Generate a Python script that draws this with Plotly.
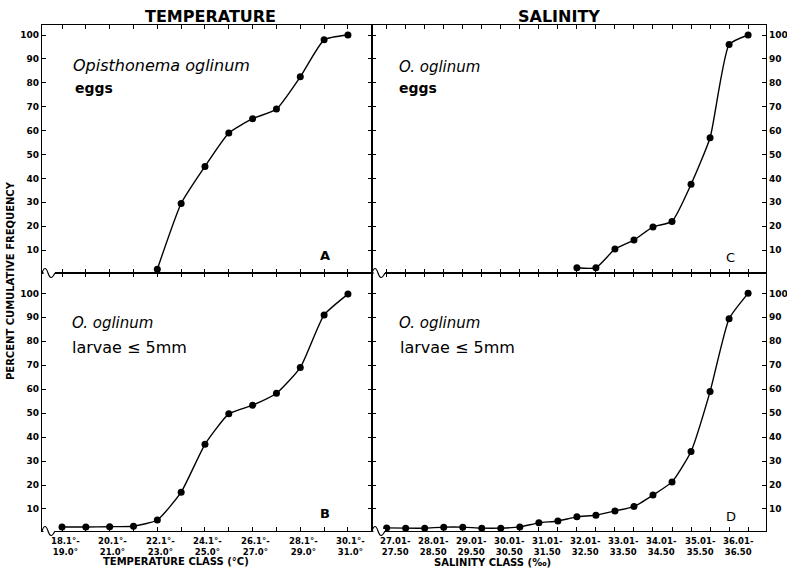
import plotly.graph_objects as go
from plotly.subplots import make_subplots

# ---------------- data ----------------
temp_classes = ["18.1°-19.0°", "19.1°-20.0°", "20.1°-21.0°", "21.1°-22.0°", "22.1°-23.0°",
                "23.1°-24.0°", "24.1°-25.0°", "25.1°-26.0°", "26.1°-27.0°", "27.1°-28.0°",
                "28.1°-29.0°", "29.1°-30.0°", "30.1°-31.0°"]
temp_ticktext = ["18.1°-<br>19.0°", "", "20.1°-<br>21.0°", "", "22.1°-<br>23.0°", "",
                 "24.1°-<br>25.0°", "", "26.1°-<br>27.0°", "", "28.1°-<br>29.0°", "",
                 "30.1°-<br>31.0°"]

sal_classes = ["27.01-27.50", "27.51-28.00", "28.01-28.50", "28.51-29.00", "29.01-29.50",
               "29.51-30.00", "30.01-30.50", "30.51-31.00", "31.01-31.50", "31.51-32.00",
               "32.01-32.50", "32.51-33.00", "33.01-33.50", "33.51-34.00", "34.01-34.50",
               "34.51-35.00", "35.01-35.50", "35.51-36.00", "36.01-36.50", "36.51-37.00"]
sal_ticktext = ["27.01-<br>27.50", "", "28.01-<br>28.50", "", "29.01-<br>29.50", "",
                "30.01-<br>30.50", "", "31.01-<br>31.50", "", "32.01-<br>32.50", "",
                "33.01-<br>33.50", "", "34.01-<br>34.50", "", "35.01-<br>35.50", "",
                "36.01-<br>36.50", ""]

# A: temperature, eggs (starts at 22.1-23.0)
temp_eggs_x = temp_classes[4:]
temp_eggs = [2, 29.5, 45, 59, 65, 69, 82.5, 98, 100]
# B: temperature, larvae <= 5 mm
temp_larvae = [2.5, 2.5, 2.6, 2.8, 5.4, 17, 37, 49.7, 53.3, 58.3, 69, 91, 99.7]
# C: salinity, eggs (starts at 32.01-32.50)
sal_eggs_x = sal_classes[10:]
sal_eggs = [2.6, 2.6, 10.4, 14.2, 19.7, 22, 37.5, 57, 96, 100]
# D: salinity, larvae <= 5 mm
sal_larvae = [2.1, 2, 2, 2.4, 2.4, 2, 2, 2.5, 4.2, 5, 6.7, 7.4, 9.2, 11, 15.8, 21.3,
              34, 59, 89.4, 100]

y_ticks = [10, 20, 30, 40, 50, 60, 70, 80, 90, 100]

# ---------------- layout geometry ----------------
W, H = 787, 572
ML, MR, MT, MB = 42, 21, 25, 41
PW, PH = W - ML - MR, H - MT - MB
split_x = (372 - ML) / PW
split_y = (H - MB - 273) / PH

FONT = "DejaVu Sans"

fig = make_subplots(rows=2, cols=2, horizontal_spacing=0, vertical_spacing=0,
                    column_widths=[split_x, 1 - split_x],
                    row_heights=[1 - split_y, split_y])

line_style = dict(color="black", width=1.4, shape="spline", smoothing=0.5)
marker_style = dict(color="black", size=7)

fig.add_trace(go.Scatter(x=temp_eggs_x, y=temp_eggs, mode="lines+markers",
                         line=line_style, marker=marker_style), row=1, col=1)
fig.add_trace(go.Scatter(x=sal_eggs_x, y=sal_eggs, mode="lines+markers",
                         line=line_style, marker=marker_style), row=1, col=2)
fig.add_trace(go.Scatter(x=temp_classes, y=temp_larvae, mode="lines+markers",
                         line=line_style, marker=marker_style), row=2, col=1)
fig.add_trace(go.Scatter(x=sal_classes, y=sal_larvae, mode="lines+markers",
                         line=line_style, marker=marker_style), row=2, col=2)

tickfont = dict(family=FONT, size=8, color="black", weight="bold")
common_axis = dict(showline=True, linecolor="black", linewidth=1.2, mirror="ticks",
                   ticks="inside", ticklen=4, tickwidth=1, tickcolor="black",
                   showgrid=False, zeroline=False, tickfont=tickfont, fixedrange=True,
                   automargin=False)

for r in (1, 2):
    fig.update_xaxes(row=r, col=1, type="category", categoryorder="array",
                     categoryarray=temp_classes, range=[-0.84, 13.01],
                     tickmode="array", tickvals=temp_classes,
                     showticklabels=False, **common_axis)
    fig.update_xaxes(row=r, col=2, type="category", categoryorder="array",
                     categoryarray=sal_classes, range=[-0.77, 19.94],
                     tickmode="array", tickvals=sal_classes,
                     showticklabels=False, **common_axis)

ytickfont = dict(family=FONT, size=9, color="black", weight="bold")
yax = dict(common_axis)
yax["tickfont"] = ytickfont
fig.update_yaxes(row=1, col=1, range=[0.4, 104.2], tickvals=y_ticks, side="left", **yax)
fig.update_yaxes(row=2, col=1, range=[0.8, 108.5], tickvals=y_ticks, side="left", **yax)
fig.update_yaxes(row=1, col=2, range=[0.4, 104.2], tickvals=y_ticks, side="right", **yax)
fig.update_yaxes(row=2, col=2, range=[0.8, 108.5], tickvals=y_ticks, side="right", **yax)


def px(x):
    return (x - ML) / PW


def py(y):
    return (H - MB - y) / PH


annotations = []


def note(text, x, y, size, weight="normal", style="normal", xanchor="left", textangle=0):
    annotations.append(dict(text=text, x=px(x), y=py(y), xref="paper", yref="paper",
                            xanchor=xanchor, yanchor="middle", showarrow=False,
                            textangle=textangle,
                            font=dict(family=FONT, size=size, color="black",
                                      weight=weight, style=style)))


# category tick labels of the bottom axes, placed through the category axes
for cats, texts, xref, shift in [(temp_classes, temp_ticktext, "x3", 3),
                                 (sal_classes, sal_ticktext, "x4", 9)]:
    for c, t in zip(cats, texts):
        if t:
            annotations.append(dict(text=t, x=c, xref=xref, y=py(546), yref="paper",
                                    xanchor="center", yanchor="middle", xshift=shift,
                                    showarrow=False,
                                    font=dict(family=FONT, size=8.5, color="black",
                                              weight="bold")))

# headings
note("TEMPERATURE", 210, 16, 16, weight="bold", xanchor="center")
note("SALINITY", 559, 16, 16, weight="bold", xanchor="center")
# axis titles
note("TEMPERATURE CLASS (°C)", 176, 561, 10, weight="bold", xanchor="center")
note("SALINITY CLASS (‰)", 492, 562, 10, weight="bold", xanchor="center")
note("PERCENT CUMULATIVE FREQUENCY", 10, 281, 10, weight="bold", xanchor="center",
     textangle=-90)
# panel A
note("Opisthonema oglinum", 71, 66, 16, style="italic")
note("eggs", 73, 88, 14, weight="bold")
note("A", 325, 255, 13, weight="bold", xanchor="center")
# panel B
note("O. oglinum", 70, 323, 15, style="italic")
note("larvae ≤ 5mm", 70, 347, 16)
note("B", 325, 513, 13, weight="bold", xanchor="center")
# panel C
note("O. oglinum", 397, 67, 15, style="italic")
note("eggs", 397, 88, 14, weight="bold")
note("C", 730, 257, 13, xanchor="center")
# panel D
note("O. oglinum", 397, 323, 15, style="italic")
note("larvae ≤ 5mm", 398, 347, 16)
note("D", 731, 516, 13, xanchor="center")

# axis-break marks on the baselines
shapes = []
for bx, by in [(42, 273), (372, 273), (42, 531), (372, 531)]:
    shapes.append(dict(type="line", xref="paper", yref="paper",
                       x0=px(bx + 1.5), x1=px(bx + 13), y0=py(by), y1=py(by),
                       line=dict(color="white", width=4)))
    path = (f"M {px(bx)},{py(by)} "
            f"C {px(bx + 2)},{py(by - 6)} {px(bx + 4)},{py(by - 6)} {px(bx + 6)},{py(by)} "
            f"C {px(bx + 8)},{py(by + 6)} {px(bx + 10)},{py(by + 6)} {px(bx + 13)},{py(by)}")
    shapes.append(dict(type="path", xref="paper", yref="paper", path=path,
                       line=dict(color="black", width=1.2)))

fig.update_layout(width=W, height=H,
                  margin=dict(l=ML, r=MR, t=MT, b=MB, autoexpand=False),
                  paper_bgcolor="white", plot_bgcolor="white", showlegend=False,
                  annotations=annotations, shapes=shapes,
                  font=dict(family=FONT, color="black"))

fig.write_html("out.html")
